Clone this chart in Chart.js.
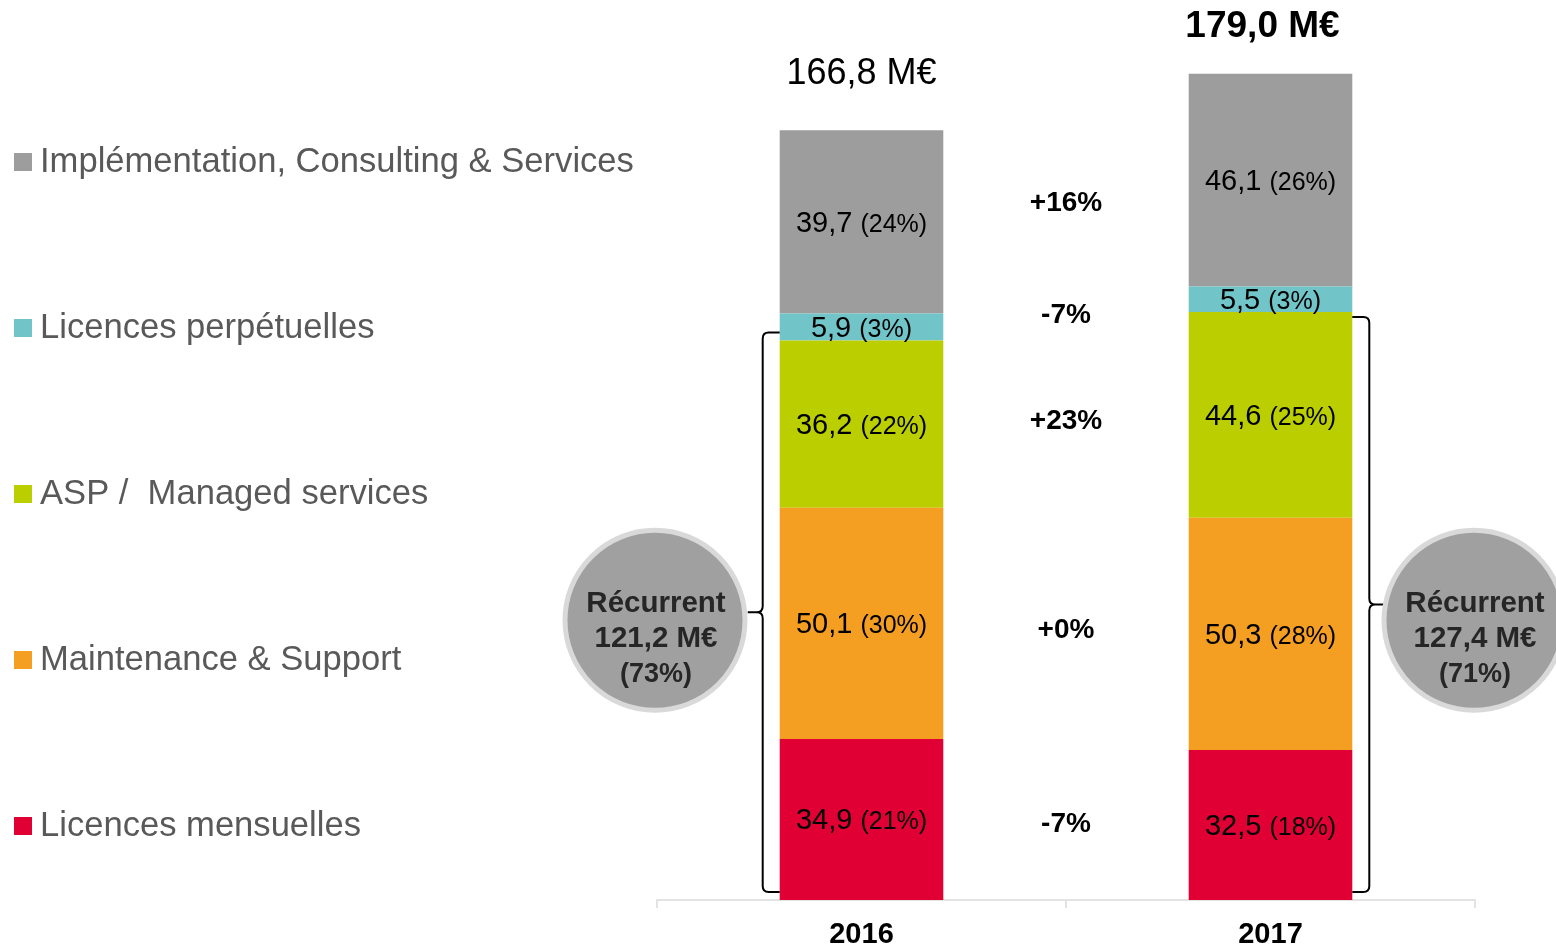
<!DOCTYPE html>
<html>
<head>
<meta charset="utf-8">
<script src="https://cdn.jsdelivr.net/npm/chart.js@4.4.1/dist/chart.umd.min.js"></script>
<style>
  html, body { margin: 0; padding: 0; background: #ffffff; }
  #wrap { width: 1556px; height: 948px; }
</style>
</head>
<body>
<div id="wrap"><canvas id="c" width="1556" height="948"></canvas></div>
<script>
// ---------- DATA ----------
const categories = ['2016', '2017'];
const seriesNames = [
  'Licences mensuelles',
  'Maintenance & Support',
  'ASP /  Managed services',
  'Licences perpétuelles',
  'Implémentation, Consulting & Services'
];
const licencesMensuelles   = [34.9, 32.5];
const maintenanceSupport   = [50.1, 50.3];
const aspManaged           = [36.2, 44.6];
const licencesPerpetuelles = [5.9, 5.5];
const implementation       = [39.7, 46.1];

const pctMensuelles   = [21, 18];
const pctMaintenance  = [30, 28];
const pctAsp          = [22, 25];
const pctPerpetuelles = [3, 3];
const pctImpl         = [24, 26];

const growthLabels = ['-7%', '+0%', '+23%', '-7%', '+16%'];
const recurrentPct = [73, 71];

const seriesColors = ['#e00034', '#f59f22', '#bbcf00', '#71c5c9', '#9d9d9d'];

// ---------- BUILD ----------
const seriesValues = [licencesMensuelles, maintenanceSupport, aspManaged, licencesPerpetuelles, implementation];
const seriesPcts = [pctMensuelles, pctMaintenance, pctAsp, pctPerpetuelles, pctImpl];
const fmt = v => v.toFixed(1).replace('.', ',');
const FONT = "'Liberation Sans', Arial, Helvetica, sans-serif";

const overlay = {
  id: 'overlay',
  afterDatasetsDraw(chart) {
    const ctx = chart.ctx;
    const y = chart.scales.y;
    const area = chart.chartArea;
    const n = categories.length;
    ctx.save();

    // segment labels
    ctx.textBaseline = 'middle';
    ctx.fillStyle = '#000000';
    seriesValues.forEach((vals, di) => {
      const meta = chart.getDatasetMeta(di);
      vals.forEach((v, j) => {
        const bar = meta.data[j];
        const cy = (bar.y + bar.base) / 2 + 2;
        const a = fmt(v) + ' ';
        const b = '(' + seriesPcts[di][j] + '%)';
        ctx.font = '29px ' + FONT;
        const wa = ctx.measureText(a).width;
        ctx.font = '25px ' + FONT;
        const wb = ctx.measureText(b).width;
        let x0 = bar.x - (wa + wb) / 2;
        ctx.textAlign = 'left';
        ctx.font = '29px ' + FONT;
        ctx.fillText(a, x0, cy);
        ctx.font = '25px ' + FONT;
        ctx.fillText(b, x0 + wa, cy + 1);
      });
    });

    // growth labels between bars
    const midX = (chart.getDatasetMeta(0).data[0].x + chart.getDatasetMeta(0).data[1].x) / 2;
    ctx.textAlign = 'center';
    ctx.font = 'bold 28px ' + FONT;
    seriesValues.forEach((vals, di) => {
      const meta = chart.getDatasetMeta(di);
      const c0 = (meta.data[0].y + meta.data[0].base) / 2;
      const c1 = (meta.data[1].y + meta.data[1].base) / 2;
      ctx.fillText(growthLabels[di], midX, (c0 + c1) / 2 + 2);
    });

    // totals above bars
    for (let j = 0; j < n; j++) {
      const total = seriesValues.reduce((s, arr) => s + arr[j], 0);
      const top = y.getPixelForValue(total);
      const last = j === n - 1;
      const x = chart.getDatasetMeta(0).data[j].x - (last ? 8 : 0);
      ctx.font = (last ? 'bold 37px ' : '36px ') + FONT;
      ctx.fillText(fmt(total) + ' M€', x, top - (last ? 47 : 56));
    }

    // braces + circles for recurrent revenue (first three series)
    const recurrent = categories.map((_, j) => seriesValues[0][j] + seriesValues[1][j] + seriesValues[2][j]);
    const circleY = y.getPixelForValue(recurrent[0] / 2);
    for (let j = 0; j < n; j++) {
      const bar = chart.getDatasetMeta(0).data[j];
      const half = bar.width / 2;
      const topY = y.getPixelForValue(recurrent[j]) - (j === 0 ? 8 : -5);
      const botY = y.getPixelForValue(0) - 8;
      const midY = (topY + botY) / 2;
      const dir = j === 0 ? -1 : 1;
      const edge = bar.x + dir * half;
      const lineX = edge + dir * 17;
      const tipX = lineX + dir * 15;
      const r = 6;
      ctx.beginPath();
      ctx.moveTo(edge, topY);
      ctx.lineTo(lineX - dir * r, topY);
      ctx.quadraticCurveTo(lineX, topY, lineX, topY + r);
      ctx.lineTo(lineX, midY - r);
      ctx.quadraticCurveTo(lineX, midY, lineX + dir * r, midY);
      ctx.lineTo(tipX, midY);
      ctx.moveTo(lineX + dir * r, midY);
      ctx.quadraticCurveTo(lineX, midY, lineX, midY + r);
      ctx.lineTo(lineX, botY - r);
      ctx.quadraticCurveTo(lineX, botY, lineX - dir * r, botY);
      ctx.lineTo(edge, botY);
      ctx.strokeStyle = '#000000';
      ctx.lineWidth = 2;
      ctx.stroke();

      const cx = j === 0 ? area.left - 2 : area.right - 1;
      ctx.beginPath();
      ctx.arc(cx, circleY, 90, 0, Math.PI * 2);
      ctx.fillStyle = '#a0a0a0';
      ctx.fill();
      ctx.lineWidth = 5;
      ctx.strokeStyle = '#d9d9d9';
      ctx.stroke();
      ctx.fillStyle = '#262626';
      ctx.textAlign = 'center';
      ctx.font = 'bold 29.5px ' + FONT;
      ctx.fillText('Récurrent', cx + 1, circleY - 16);
      ctx.fillText(fmt(recurrent[j]) + ' M€', cx + 1, circleY + 19);
      ctx.font = 'bold 27px ' + FONT;
      ctx.fillText('(' + recurrentPct[j] + '%)', cx + 1, circleY + 54);
    }

    // legend (top = last series)
    ctx.textAlign = 'left';
    ctx.font = '34.6px ' + FONT;
    const order = chart.data.datasets.map((d, i) => i).reverse();
    order.forEach((di, k) => {
      const ds = chart.data.datasets[di];
      const ly = 162 + k * 166;
      ctx.fillStyle = ds.backgroundColor;
      ctx.fillRect(14, ly - 9, 18, 18);
      ctx.fillStyle = '#595959';
      ctx.fillText(ds.label, 40, ly);
    });

    ctx.restore();
  }
};

new Chart(document.getElementById('c'), {
  type: 'bar',
  data: {
    labels: categories,
    datasets: seriesValues.map((vals, i) => ({
      label: seriesNames[i],
      data: vals,
      backgroundColor: seriesColors[i],
      borderWidth: 0,
      categoryPercentage: 1.0,
      barPercentage: 0.4
    }))
  },
  options: {
    responsive: false,
    devicePixelRatio: 1,
    animation: false,
    layout: { padding: { left: 657, right: 81, top: 0, bottom: 0 } },
    plugins: { legend: { display: false }, tooltip: { enabled: false } },
    scales: {
      y: { display: false, stacked: true, min: 0, max: 195 },
      x: {
        stacked: true,
        grid: { offset: true, drawOnChartArea: false, drawTicks: true, tickLength: 8, color: '#e3e3e3', lineWidth: 2 },
        border: { color: '#e3e3e3', width: 2 },
        ticks: { color: '#000000', padding: 10, font: { family: FONT, weight: 'bold', size: 29 } },
        afterFit(scale) { scale.height = 48; }
      }
    }
  },
  plugins: [overlay]
});
</script>
</body>
</html>
